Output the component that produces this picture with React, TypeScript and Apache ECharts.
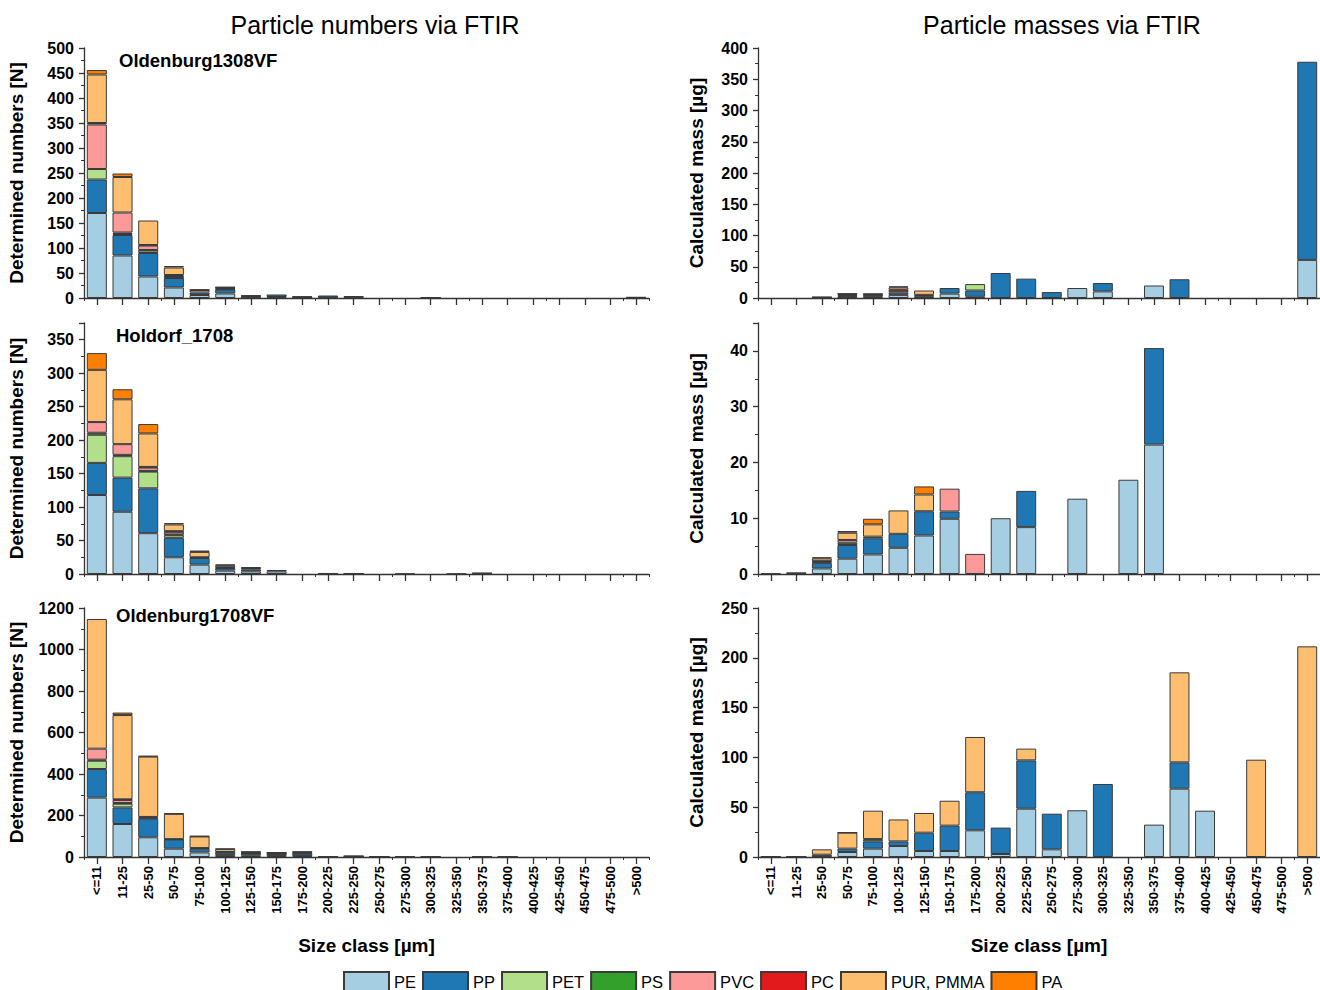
import React, { useEffect, useRef } from "react";
import * as echarts from "echarts";

const categories = ["<=11","11-25","25-50","50-75","75-100","100-125","125-150","150-175","175-200","200-225","225-250","250-275","275-300","300-325","325-350","350-375","375-400","400-425","425-450","450-475","475-500",">500"];
const polymers = ["PE", "PP", "PET", "PS", "PVC", "PC", "PUR, PMMA", "PA"];
const colors = ["#a6cee3", "#1f78b4", "#b2df8a", "#33a02c", "#fb9a99", "#e31a1c", "#fdbf6f", "#ff7f00"];

// Particle numbers, Oldenburg1308VF (rows = polymers in order above)
const numbers1308: number[][] = [
  [170,85,43,21,6,9,1,2,1,1,1,0,0,0.5,0,0,0,0,0,0,0,0.5],
  [67,41,47,19,5,8,2,5,1,4,3,0,0,0,0,0,0,0,0,0,0,0],
  [21,2,5,1,0,0,0,0,0,0,0,0,0,0,0,0,0,0,0,0,0,0],
  [0,3,1,0,0,1,0,0,0,0,0,0,0,0,0,0,0,0,0,0,0,0],
  [89,40,9,3,0,0,0,0,0,0,0,0,0,0,0,0,0,0,0,0,0,0],
  [3,0,1,2,0,2,1,0,1,0,0,0,0,0.5,0,0,0,0,0,0,0,1.5],
  [97,71,49,15,5,1,0,0,0,0,0,0,0,0,0,0,0,0,0,0,0,0],
  [9,7,0,3,1,1,1,0,0,0,0,0,0,0,0,0,0,0,0,0,0,0],
];
// Particle numbers, Holdorf_1708
const numbersHoldorf: number[][] = [
  [118,93,61,25,14,5,4,4,0,0.5,0.5,0,0.5,0,0.5,1,0,0,0,0,0,0],
  [48,51,67,29,10,4,3,2,0,0.5,0.5,0,0,0,0,0.5,0,0,0,0,0,0],
  [42,32,25,4,0,0,0,0,0,0,0,0,0,0,0,0,0,0,0,0,0,0],
  [3,2,1,1,1,0,0,0,0,0,0,0,0,0,0,0,0,0,0,0,0,0],
  [16,16,5,4,0,0,0,0,0,0,0,0,0,0,0,0,0,0,0,0,0,0],
  [0,0,1,1,0,1,2,0,0,0,0,0,0,0,0,0,0,0,0,0,0,0],
  [78,67,50,10,8,3,0,0,0,0,0,0,0,0,0,0,0,0,0,0,0,0],
  [25,15,14,2,2,1,1,0,0,0,0,0,0,0,0,0,0,0,0,0,0,0],
];
// Particle numbers, Oldenburg1708VF
const numbers1708: number[][] = [
  [286,159,95,40,22,10,6,5,5,1,1,0.5,0.5,0.5,0,0.5,0.5,0,0,0,0,0],
  [138,80,90,45,18,12,10,10,12,1,3,1,0.5,1,0,0.5,0.5,0,0,0,0,0],
  [40,18,0,0,0,0,0,0,0,0,0,0,0,0,0,0,0,0,0,0,0,0],
  [5,3,4,1,0,2,0,0,0,0,0,0,0,0,0,0,0,0,0,0,0,0],
  [53,15,0,0,0,0,0,0,0,0,0,0,0,0,0,0,0,0,0,0,0,0],
  [0,3,4,0,3,0,2,2,2,0.5,1,0.5,0,0,0,0,0,0,0,0,0,0],
  [625,406,291,122,56,14,6,3,5,0,0,0,0,0,0,0,0,0,0,0,0,0],
  [0,12,3,2,2,2,2,2,2,0,0,0,0,0,0,0,0,0,0,0,0,0],
];
// Particle masses, Oldenburg1308VF
const masses1308: number[][] = [
  [0,0,0.3,1,2,5,3,7,2,0,0,0,16,10.6,0,20,0,0,0,0,0,61],
  [0,0,0.5,2,2,4,2,9,10,40,31,9.5,0,13.4,0,0,30,0,0,0,0,317],
  [0,0,0,0,0,0,0,0,10.3,0,0,0,0,0,0,0,0,0,0,0,0,0],
  [0,0,0.3,2,1,0,0,0,0,0,0,0,0,0,0,0,0,0,0,0,0,0],
  [0,0,0,0,0,0,0,0,0,0,0,0,0,0,0,0,0,0,0,0,0,0],
  [0,0,0.4,1.5,1,4,0,0,0,0,0,0,0,0,0,0,0,0,0,0,0,0],
  [0,0,0,0.5,1,4,7,0,0,0,0,0,0,0,0,0,0,0,0,0,0,0],
  [0,0,0,0,0,1.6,0,0,0,0,0,0,0,0,0,0,0,0,0,0,0,0],
];
// Particle masses, Holdorf_1708
const massesHoldorf: number[][] = [
  [0.1,0.15,1.0,2.75,3.5,4.7,6.9,9.9,0,10,8.4,0,13.5,0,16.9,23.2,0,0,0,0,0,0],
  [0,0.05,1.0,2.45,2.9,2.5,4.35,1.3,0,0,6.5,0,0,0,0,17.3,0,0,0,0,0,0],
  [0,0,0.2,0,0,0,0,0,0,0,0,0,0,0,0,0,0,0,0,0,0,0],
  [0,0,0.1,0.4,0.3,0,0,0,0,0,0,0,0,0,0,0,0,0,0,0,0,0],
  [0,0,0,0.5,0,0,0,4.1,3.6,0,0,0,0,0,0,0,0,0,0,0,0,0],
  [0,0,0,0,0,0,0,0,0,0,0,0,0,0,0,0,0,0,0,0,0,0],
  [0,0,0.5,1.3,2.2,4.2,3.0,0,0,0,0,0,0,0,0,0,0,0,0,0,0,0],
  [0,0,0.2,0.3,1.0,0,1.45,0,0,0,0,0,0,0,0,0,0,0,0,0,0,0],
];
// Particle masses, Oldenburg1708VF
const masses1708: number[][] = [
  [0.2,0.3,0.5,5,8.4,11,6,6,26.8,3,48.5,7.7,46.9,0,0,32.5,68.6,46.5,0,0,0,0],
  [0.1,0.2,1.8,3.4,7.3,4.7,18.4,25.5,38.2,26.5,48.5,35.8,0,73.3,0,0,26.4,0,0,0,0,0],
  [0,0,0,0,0,0,0,0,0,0,0,0,0,0,0,0,0,0,0,0,0,0],
  [0,0,0,0,2.3,0,0,0,0,0,0,0,0,0,0,0,0,0,0,0,0,0],
  [0,0,0,0,0,0,0,0,0,0,0,0,0,0,0,0,0,0,0,0,0,0],
  [0,0,0,0,0,0,0,0,0,0,0,0,0,0,0,0,0,0,0,0,0,0],
  [0,0,5.4,16,28.5,22,19.8,25,55.5,0,11.8,0,0,0,0,0,90.4,0,0,97.7,0,211.5],
  [0,0,0,0.3,0,0,0,0,0,0,0,0,0,0,0,0,0,0,0,0,0,0],
];

const sampleNames = ["Oldenburg1308VF", "Holdorf_1708", "Oldenburg1708VF"];
const leftMax = [500, 375, 1200];
const leftInterval = [50, 50, 200];
const rightMax = [400, 45, 250];
const rightInterval = [50, 10, 50];

const FONT = "Liberation Sans, Arial, sans-serif";

export default function App() {
  const ref = useRef<HTMLDivElement>(null);
  useEffect(() => {
    if (!ref.current) return;
    const chart = echarts.init(ref.current, null, { renderer: "svg" });
    const panels = [
      { data: numbers1308, col: 0, row: 0 },
      { data: numbersHoldorf, col: 0, row: 1 },
      { data: numbers1708, col: 0, row: 2 },
      { data: masses1308, col: 1, row: 0 },
      { data: massesHoldorf, col: 1, row: 1 },
      { data: masses1708, col: 1, row: 2 },
    ];
    const rowTop = [48, 323, 608];
    const rowHeight = [250, 251, 249];
    const colLeft = [84, 758];
    const plotWidth = 565;

    const grids: any[] = [];
    const xAxes: any[] = [];
    const yAxes: any[] = [];
    const series: any[] = [];
    const axisColor = "#333";

    panels.forEach((p, gi) => {
      grids.push({ left: colLeft[p.col], top: rowTop[p.row], width: plotWidth, height: rowHeight[p.row], containLabel: false });
      const bottom = p.row === 2;
      xAxes.push({
        type: "category", gridIndex: gi, data: categories, boundaryGap: true,
        axisLine: { lineStyle: { color: axisColor, width: 1.3 } },
        axisTick: { show: true, alignWithLabel: true, length: 7, lineStyle: { color: axisColor, width: 1.3 } },
        axisLabel: { show: bottom, rotate: 90, interval: 0, fontSize: 13, fontWeight: "bold", color: "#000", fontFamily: FONT, margin: 9 },
        name: bottom ? "Size class [µm]" : "", nameLocation: "middle", nameGap: 79,
        nameTextStyle: { fontSize: 19, fontWeight: "bold", color: "#000", fontFamily: FONT },
      });
      const max = p.col === 0 ? leftMax[p.row] : rightMax[p.row];
      const interval = p.col === 0 ? leftInterval[p.row] : rightInterval[p.row];
      yAxes.push({
        type: "value", gridIndex: gi, min: 0, max, interval,
        splitLine: { show: false },
        axisLine: { show: true, lineStyle: { color: axisColor, width: 1.3 } },
        axisTick: { show: true, length: 5, lineStyle: { color: axisColor, width: 1.3 } },
        minorTick: { show: true, splitNumber: 2, length: 3, lineStyle: { color: axisColor, width: 1 } },
        axisLabel: {
          fontSize: 16, fontWeight: "bold", color: "#000", fontFamily: FONT, margin: 10,
          formatter: (v: number) => (v % interval === 0 ? String(v) : ""),
        },
        name: p.col === 0 ? "Determined numbers [N]" : "Calculated mass [µg]",
        nameLocation: "middle", nameGap: p.col === 0 ? 58 : 52,
        nameTextStyle: { fontSize: 19, fontWeight: "bold", color: "#000", fontFamily: FONT },
      });
      p.data.forEach((vals, si) => {
        series.push({
          type: "bar", name: polymers[si], xAxisIndex: gi, yAxisIndex: gi, stack: "s" + gi,
          data: vals.map((v) => (v === 0 ? null : v)), barWidth: "78%",
          itemStyle: { color: colors[si], borderColor: "#3a3a3a", borderWidth: 1 },
          emphasis: { disabled: true },
        });
      });
    });
    // boundary (minor) ticks for the category axes
    panels.forEach((p, gi) => {
      xAxes.push({
        type: "category", gridIndex: gi, data: categories, boundaryGap: true, position: "bottom",
        axisLine: { show: false },
        axisTick: { show: true, alignWithLabel: false, length: 3, lineStyle: { color: axisColor, width: 1 } },
        axisLabel: { show: false },
      });
    });

    const titles: any[] = [
      { text: "Particle numbers via FTIR", left: 375, top: 12, padding: 0, textAlign: "center", textStyle: { fontSize: 25, fontWeight: "normal", color: "#000", fontFamily: FONT } },
      { text: "Particle masses via FTIR", left: 1062, top: 12, padding: 0, textAlign: "center", textStyle: { fontSize: 25, fontWeight: "normal", color: "#000", fontFamily: FONT } },
    ];
    const sampleTop = [51, 326, 606];
    const sampleLeft = [119, 116, 116];
    sampleNames.forEach((s, i) => {
      titles.push({ text: s, left: sampleLeft[i], top: sampleTop[i], padding: 0, textStyle: { fontSize: 18.5, fontWeight: "bold", color: "#000", fontFamily: FONT } });
    });

    chart.setOption({
      animation: false,
      backgroundColor: "#fff",
      title: titles,
      legend: {
        data: polymers, left: 338, top: 966, itemWidth: 45, itemHeight: 19, itemGap: 6,
        textStyle: { fontSize: 16.5, color: "#000", fontFamily: FONT },
        icon: "rect", selectedMode: false,
      },
      grid: grids,
      xAxis: xAxes,
      yAxis: yAxes,
      series,
    });
    return () => chart.dispose();
  }, []);
  return <div ref={ref} style={{ position: "absolute", left: 0, top: 0, width: 1320, height: 990 }} />;
}
